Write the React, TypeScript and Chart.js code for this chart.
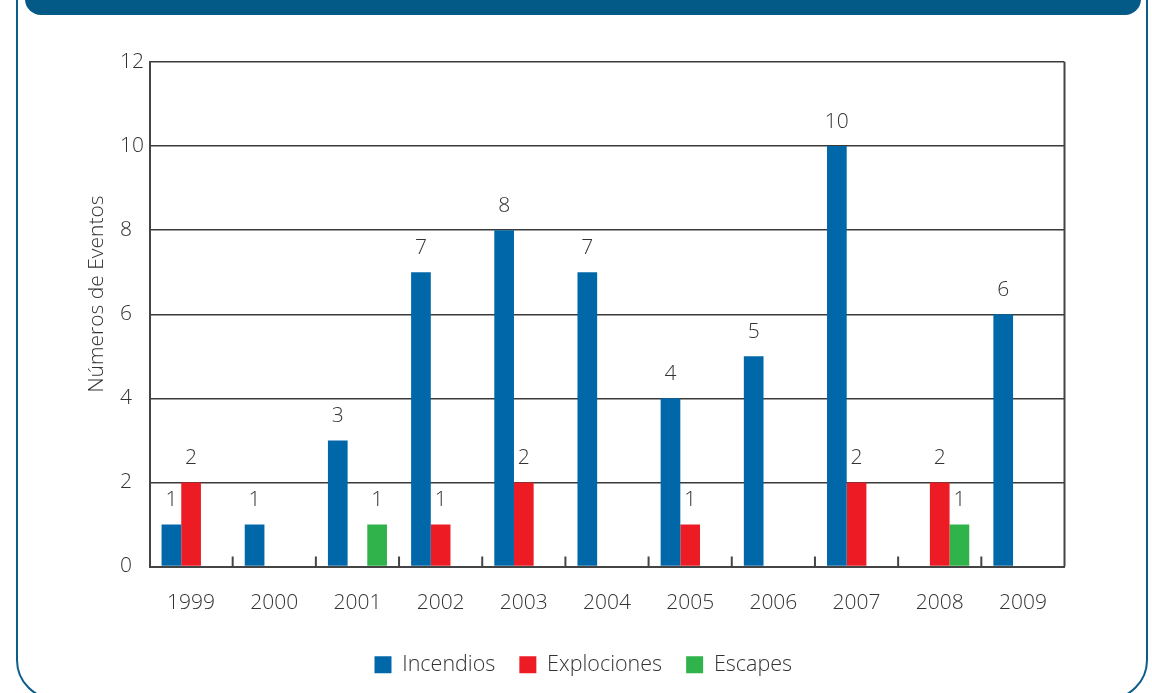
import React, { useEffect, useRef } from "react";
import { Chart, registerables } from "chart.js";

Chart.register(...registerables);

const years = ["1999", "2000", "2001", "2002", "2003", "2004", "2005", "2006", "2007", "2008", "2009"];
const incendios = [1, 1, 3, 7, 8, 7, 4, 5, 10, 0, 6];
const explociones = [2, 0, 0, 1, 2, 0, 1, 0, 2, 2, 0];
const escapes = [0, 0, 1, 0, 0, 0, 0, 0, 0, 1, 0];
const yTicks = [0, 2, 4, 6, 8, 10, 12];

const FONT = "'Open Sans', 'Noto Sans', sans-serif";
const TEXT = "#333333";
const WEIGHT = 350;

const extrasPlugin = {
  id: "extras",
  afterLayout(chart: any) {
    if (chart.legend) {
      chart.legend.left -= 9;
      chart.legend.right -= 9;
    }
  },
  afterDatasetsDraw(chart: any) {
    const ctx = chart.ctx;
    const area = chart.chartArea;
    const xs = chart.scales.x;
    ctx.save();
    // inner tick marks at category boundaries
    ctx.strokeStyle = "#444";
    ctx.lineWidth = 2;
    for (let i = 1; i < years.length; i++) {
      const x = (xs.getPixelForValue(i - 1) + xs.getPixelForValue(i)) / 2;
      ctx.beginPath();
      ctx.moveTo(x, area.bottom - 10);
      ctx.lineTo(x, area.bottom);
      ctx.stroke();
    }
    // right border
    ctx.beginPath();
    ctx.moveTo(area.right, area.top);
    ctx.lineTo(area.right, area.bottom);
    ctx.stroke();
    // value labels
    ctx.fillStyle = TEXT;
    ctx.font = `${WEIGHT} 21px ${FONT}`;
    ctx.textAlign = "center";
    ctx.textBaseline = "middle";
    chart.data.datasets.forEach((ds: any, di: number) => {
      const meta = chart.getDatasetMeta(di);
      meta.data.forEach((el: any, i: number) => {
        const v = ds.data[i];
        if (v > 0) ctx.fillText(String(v), el.x, el.y - 24);
      });
    });
    // y axis title
    ctx.save();
    ctx.translate(97, 294);
    ctx.rotate(-Math.PI / 2);
    ctx.font = `${WEIGHT} 21px ${FONT}`;
    ctx.fillText("Números de Eventos", 0, 0);
    ctx.restore();
    ctx.restore();
  },
};

export default function App() {
  const ref = useRef<HTMLCanvasElement>(null);
  useEffect(() => {
    if (!ref.current) return;
    const chart = new Chart(ref.current, {
      type: "bar",
      data: {
        labels: years,
        datasets: [
          { label: "Incendios", data: incendios, backgroundColor: "#0067a8" },
          { label: "Explociones", data: explociones, backgroundColor: "#ed1c24" },
          { label: "Escapes", data: escapes, backgroundColor: "#2fb34a" },
        ],
      },
      options: {
        animation: false,
        responsive: false,
        maintainAspectRatio: false,
        layout: { padding: { left: 120, right: 87.5, top: 62, bottom: 7.5 } },
        datasets: { bar: { categoryPercentage: 0.71, barPercentage: 1.0 } },
        plugins: {
          legend: {
            position: "bottom",
            labels: {
              font: { family: FONT, size: 21.5, weight: WEIGHT },
              color: TEXT,
              boxWidth: 17,
              boxHeight: 17,
              padding: 24,
            },
          },
          tooltip: { enabled: false },
        },
        scales: {
          x: {
            grid: { display: false, drawTicks: false },
            border: { display: true, color: "#444", width: 2 },
            ticks: { font: { family: FONT, size: 21, weight: WEIGHT }, color: TEXT, padding: 24 },
            afterFit: (s: any) => { s.height = 63.5; },
          },
          y: {
            min: 0,
            max: 12,
            afterBuildTicks: (s: any) => { s.ticks = yTicks.map((v) => ({ value: v })); },
            grid: { color: "#3a3a3a", lineWidth: 1.5, drawTicks: false },
            border: { display: true, color: "#444", width: 2 },
            ticks: { font: { family: FONT, size: 21, weight: WEIGHT }, color: TEXT, padding: 7, crossAlign: "far" },
            afterFit: (s: any) => { s.width = 29.5; },
          },
        },
      } as any,
      plugins: [extrasPlugin],
    });
    return () => chart.destroy();
  }, []);
  return (
    <div style={{ position: "fixed", left: 0, top: 0, width: 1152, height: 693, background: "#fff", overflow: "hidden" }}>
      <div
        style={{
          position: "absolute",
          left: 16,
          top: -60,
          width: 1128,
          height: 756,
          border: "2px solid #0b5e8b",
          borderRadius: 40,
        }}
      />
      <div
        style={{
          position: "absolute",
          left: 25,
          top: -20,
          width: 1116,
          height: 35,
          background: "#045a87",
          borderRadius: 16,
        }}
      />
      <canvas ref={ref} width={1152} height={693} style={{ position: "absolute", left: 0, top: 0 }} />
    </div>
  );
}
